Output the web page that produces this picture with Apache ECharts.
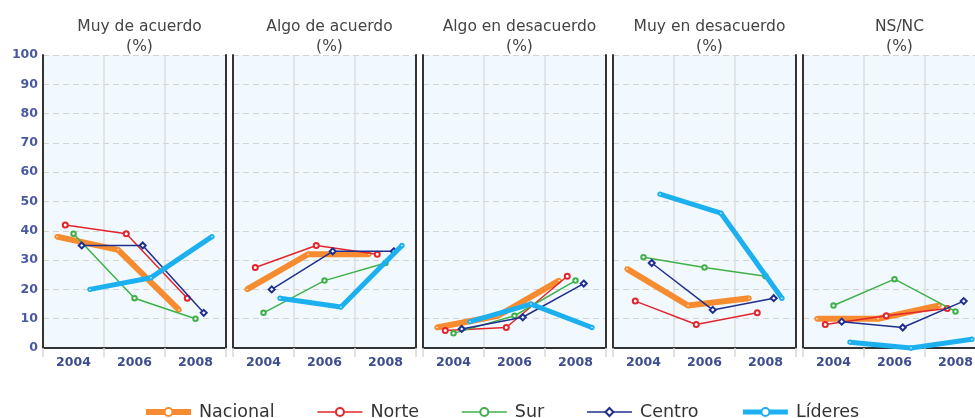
<!DOCTYPE html>
<html>
<head>
<meta charset="utf-8">
<script src="https://cdn.jsdelivr.net/npm/echarts@6/dist/echarts.min.js"></script>
<style>
html,body{margin:0;padding:0;background:#fff;}
#chart{width:975px;height:418px;}
</style>
</head>
<body>
<div id="chart"></div>
<script>
// ---- data ----
const years = ['2004', '2006', '2008'];
const panelTitles = ['Muy de acuerdo', 'Algo de acuerdo', 'Algo en desacuerdo', 'Muy en desacuerdo', 'NS/NC'];
const seriesNames = ['Nacional', 'Norte', 'Sur', 'Centro', 'Líderes'];
const yTicks = [0, 10, 20, 30, 40, 50, 60, 70, 80, 90, 100];
// values per panel (rows) per year (columns)
const nacional = [[38, 33.5, 13], [20, 32, 32], [7, 11, 23], [27, 14.5, 17], [10, 10, 14.5]];
const norte    = [[42, 39, 17], [27.5, 35, 32], [6, 7, 24.5], [16, 8, 12], [8, 11, 13.5]];
const sur      = [[39, 17, 10], [12, 23, 29], [5, 11, 23], [31, 27.5, 24.5], [14.5, 23.5, 12.5]];
const centro   = [[35, 35, 12], [20, 33, 33], [6.5, 10.5, 22], [29, 13, 17], [9, 7, 16]];
const lideres  = [[20, 24, 38], [17, 14, 35], [9, 15, 7], [52.5, 46, 17], [2, 0, 3]];

const allData = [nacional, norte, sur, centro, lideres];

// ---- styles ----
const colors = ['#f78b2f', '#e2262c', '#3fb14a', '#1f2f8f', '#1cb0f0'];
const widths = [6, 1.5, 1.5, 1.5, 5];
const symbols = ['emptyCircle', 'emptyCircle', 'emptyCircle', 'emptyDiamond', 'emptyCircle'];
const symbolSizes = [3.5, 5, 4.5, 6, 3.5];

const gridLefts = [43, 233, 423, 613, 803];
const gridW = 183, gridTop = 55, gridH = 293;
const step = 0.135;

const grids = [], xAxes = [], yAxes = [], series = [], titles = [];

gridLefts.forEach((left, k) => {
  grids.push({left: left, top: gridTop, width: gridW, height: gridH, show: true,
    backgroundColor: '#f2f9fe', borderWidth: 0, outerBoundsMode: 'none', containLabel: false});
  xAxes.push({
    gridIndex: k, type: 'category', data: years, boundaryGap: true,
    axisLine: {show: true, lineStyle: {color: '#333', width: 2}},
    axisTick: {show: true, length: 9, lineStyle: {color: '#d8d8d8', width: 1.5}},
    axisLabel: {color: '#3d4d8f', fontSize: 12.5, fontWeight: 'bold', margin: 8, fontFamily: 'DejaVu Sans'},
    splitLine: {show: true, lineStyle: {color: '#dcdcdc', width: 1.5}}
  });
  xAxes.push({gridIndex: k, type: 'value', min: 0, max: 3, show: false});
  yAxes.push({
    gridIndex: k, type: 'value', min: 0, max: 100, interval: 10,
    axisLine: {show: true, lineStyle: {color: '#333', width: 2}},
    axisTick: {show: false},
    axisLabel: {show: k === 0, color: '#4a5a9e', fontSize: 12.5, fontWeight: 'bold', margin: 5, fontFamily: 'DejaVu Sans'},
    splitLine: {show: true, lineStyle: {color: '#d2d2d2', type: [6, 4], width: 1}}
  });
  yAxes.push({
    gridIndex: k, type: 'value', min: 0, max: 100, interval: 10, position: 'right',
    axisLine: {show: true, lineStyle: {color: '#333', width: 2}},
    axisTick: {show: false}, axisLabel: {show: false}, splitLine: {show: false}
  });
  titles.push({
    text: panelTitles[k] + '\n(%)',
    left: left + gridW / 2, top: 12, textAlign: 'center',
    textStyle: {fontSize: 15.5, fontWeight: 'normal', color: '#444', lineHeight: 20, fontFamily: 'DejaVu Sans'}
  });
  seriesNames.forEach((name, i) => {
    series.push({
      type: 'line', name: name,
      xAxisIndex: 2 * k + 1, yAxisIndex: 2 * k,
      data: allData[i][k].map((v, j) => [j + 0.5 + (i - 2) * step, v]),
      lineStyle: {color: colors[i], width: widths[i]},
      itemStyle: {color: colors[i], borderWidth: 1.5},
      symbol: symbols[i], symbolSize: symbolSizes[i],
      clip: false, z: 2 + i, animation: false
    });
  });
});

const legendData = seriesNames.map((name, i) => ({
  name: name,
  lineStyle: {width: Math.max(widths[i], 1.5), color: colors[i]}
}));

const chart = echarts.init(document.getElementById('chart'));
chart.setOption({
  backgroundColor: '#ffffff',
  animation: false,
  title: titles,
  grid: grids,
  xAxis: xAxes,
  yAxis: yAxes,
  legend: {
    data: legendData, left: 138, top: 398, itemGap: 42, itemWidth: 45, itemHeight: 10,
    textStyle: {fontSize: 17.5, color: '#333', fontFamily: 'DejaVu Sans', padding: [0, 0, 0, 3]}
  },
  series: series
});
</script>
</body>
</html>
